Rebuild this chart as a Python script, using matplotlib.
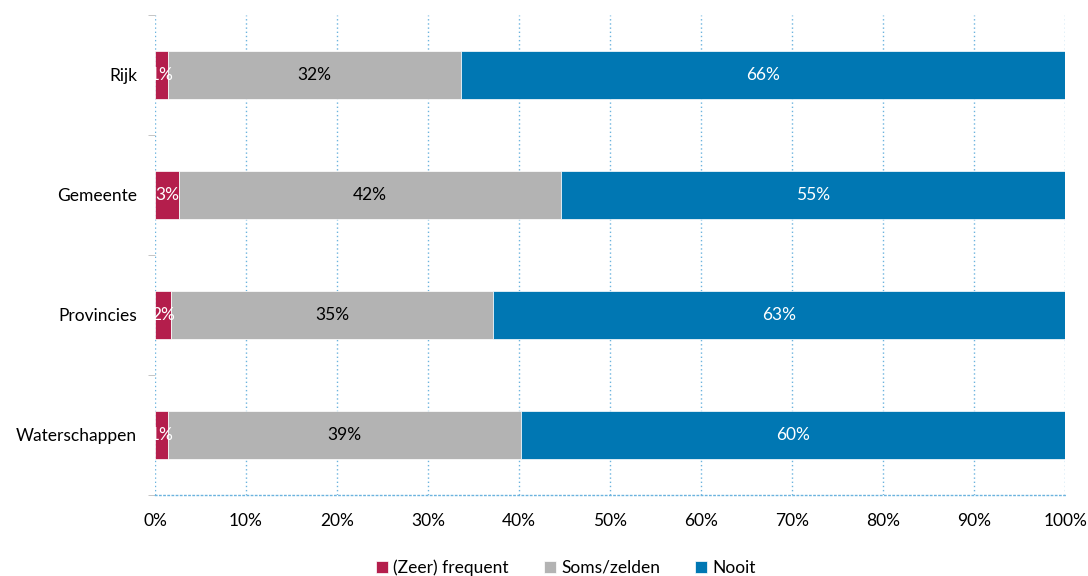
import numpy as np
import matplotlib.pyplot as plt
from matplotlib.ticker import FixedLocator, PercentFormatter

# Data (shares in %)
categories = ['Rijk', 'Gemeente', 'Provincies', 'Waterschappen']
zeer_frequent = [1.4, 2.6, 1.8, 1.4]
soms_zelden = [32.2, 42.0, 35.3, 38.8]
nooit = [66.4, 55.4, 62.9, 59.8]
series_names = ['(Zeer) frequent', 'Soms/zelden', 'Nooit']

colors = ['#B41E4C', '#B3B3B3', '#0077B3']
text_colors = ['white', 'black', 'white']

plt.rcParams['font.family'] = ['Lato', 'DejaVu Sans']
fs = 12.5

fig = plt.figure(figsize=(10.88, 5.76), dpi=100)
ax = fig.add_axes([0.1425, 0.141, 0.8365, 0.833])

y = np.arange(len(categories))
left = np.zeros(len(categories))
for vals, name, c, tc in zip([zeer_frequent, soms_zelden, nooit], series_names, colors, text_colors):
    vals = np.array(vals)
    ax.barh(y, vals, left=left, height=0.4, color=c, edgecolor='white', linewidth=0.5, label=name, zorder=3)
    for yi, l, v in zip(y, left, vals):
        ax.text(l + v / 2, yi, f'{v:.0f}%', ha='center', va='center', color=tc, fontsize=fs, zorder=4)
    left = left + vals

ax.set_xlim(0, 100)
ax.set_ylim(len(categories) - 0.5, -0.5)
ax.set_yticks(y)
ax.set_yticklabels(categories, fontsize=fs)
ax.yaxis.set_minor_locator(FixedLocator(np.arange(-0.5, len(categories), 1)))
ax.tick_params(axis='y', which='major', length=0, pad=13)
ax.tick_params(axis='y', which='minor', length=5, color='#BBBBBB')
ax.set_xticks(np.arange(0, 101, 10))
ax.xaxis.set_major_formatter(PercentFormatter(decimals=0))
ax.tick_params(axis='x', length=0, labelsize=fs, pad=13)

ax.grid(axis='x', linestyle=(0, (1, 2)), color='#6BB3DE', linewidth=1, zorder=0)
for s in ['top', 'right', 'left']:
    ax.spines[s].set_visible(False)
ax.spines['bottom'].set_linestyle((0, (1, 2)))
ax.spines['bottom'].set_color('#6BB3DE')
ax.spines['bottom'].set_linewidth(1)

fig.legend(loc='lower center', bbox_to_anchor=(0.52, -0.027), ncol=3, frameon=False, fontsize=fs,
           handlelength=0.7, handleheight=0.7, handletextpad=0.3, columnspacing=2.0)

plt.savefig('out.png', dpi=100)
